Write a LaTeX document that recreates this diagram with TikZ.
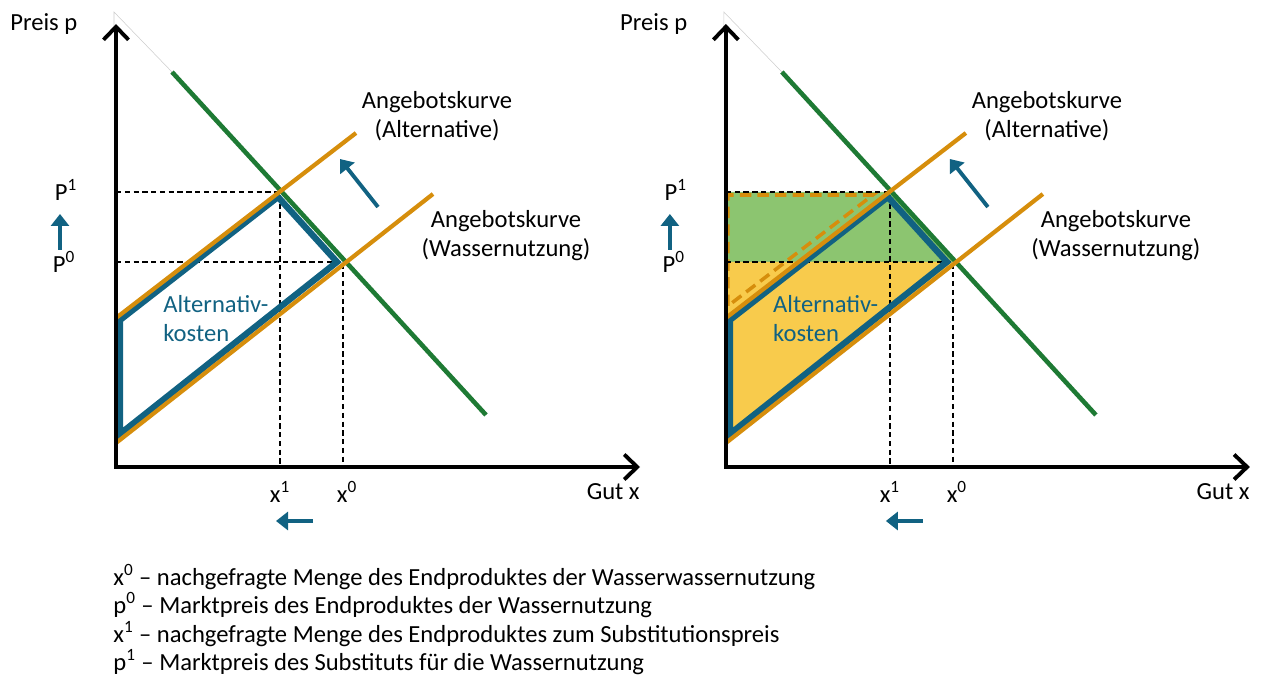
\documentclass[tikz,border=0pt]{standalone}
\usepackage{fontspec}
\setmainfont{Carlito}
\usetikzlibrary{arrows.meta}

\definecolor{gruen}{RGB}{30,122,52}
\definecolor{orange}{RGB}{214,142,12}
\definecolor{blau}{RGB}{17,98,130}
\definecolor{hellgruen}{RGB}{140,197,112}
\definecolor{gelb}{RGB}{248,203,76}

\tikzset{
  achse/.style={line width=2.2pt, {Straight Barb[length=2.6mm,width=5mm]}-{Straight Barb[length=2.6mm,width=5mm]}},
  nachfrage/.style={gruen, line width=2.6pt},
  angebot/.style={orange, line width=2.4pt},
  kosten/.style={blau, line width=3.6pt},
  hilfslinie/.style={black, line width=0.8pt, dash pattern=on 3pt off 2pt},
  pfeil/.style={blau, line width=2.2pt, -{Triangle[length=2.4mm,width=3.6mm]}},
  beschriftung/.style={inner sep=0pt, font=\fontsize{14}{16.5}\selectfont}
}

% Achsen, Kurven und Beschriftungen eines Marktdiagramms
\newcommand{\marktdiagramm}{%
  \coordinate (pa) at (280,192);
  \coordinate (pb) at (343,262);
  \draw[gray!40, line width=0.3pt] (114,26) -- (114,12) -- (172,72);
  % Hilfslinien zu den Gleichgewichten
  \draw[hilfslinie] (116,192) -- (pa) -- (280,467);
  \draw[hilfslinie] (116,262) -- (pb) -- (343,467);
  \draw[kosten] (120,434) -- (120,320) -- (278,197) -- (337,262) -- cycle;
  \draw[nachfrage] (172,72) -- (486,415);
  \draw[angebot] (116,318) -- (356,133);
  \draw[angebot] (116,443) -- (433,194);
  \draw[achse] (116,24) -- (116,467) -- (640,467);
  \draw[pfeil] (60,250) -- (60,214);
  \draw[pfeil] (313,521) -- (276,521);
  \draw[pfeil] (378,207) -- (340,159);
  \node[beschriftung, anchor=west] (preis) at (10,24) {Preis p};
  \node[beschriftung, anchor=east] (gut) at (640,492) {Gut x};
  \node[beschriftung] (pe) at (66,190) {P\textsuperscript{1}};
  \node[beschriftung] (pn) at (64,262) {P\textsuperscript{0}};
  \node[beschriftung] (xe) at (280,492) {x\textsuperscript{1}};
  \node[beschriftung] (xn) at (347,492) {x\textsuperscript{0}};
  \node[beschriftung, align=center] (alternative) at (437,116) {Angebotskurve\\(Alternative)};
  \node[beschriftung, align=center] (wasser) at (506,236) {Angebotskurve\\(Wassernutzung)};
  \node[beschriftung, blau, align=left, anchor=north west] (kostentext) at (163,295) {Alternativ-\\kosten};
}

\begin{document}
\begin{tikzpicture}[x=0.02cm, y=-0.02cm]
\useasboundingbox (0,0) rectangle (1265,675);

% linkes Diagramm
\marktdiagramm

% rechtes Diagramm mit Flaechen
\begin{scope}[xshift=12.2cm]
  \fill[hellgruen] (116,192) -- (280,192) -- (343,262) -- (116,262) -- cycle;
  \fill[gelb] (116,262) -- (343,262) -- (118,443) -- (116,443) -- cycle;
  \draw[orange, line width=2pt, dash pattern=on 6.5pt off 3.5pt] (118,306) -- (118,195) -- (263,195) -- cycle;
  \marktdiagramm
\end{scope}

% Legende
\node[beschriftung, anchor=west] (leg1) at (113,577) {x\textsuperscript{0} – nachgefragte Menge des Endproduktes der Wasserwassernutzung};
\node[beschriftung, anchor=west] (leg2) at (113,605) {p\textsuperscript{0} – Marktpreis des Endproduktes der Wassernutzung};
\node[beschriftung, anchor=west] (leg3) at (113,634) {x\textsuperscript{1} – nachgefragte Menge des Endproduktes zum Substitutionspreis};
\node[beschriftung, anchor=west] (leg4) at (113,662) {p\textsuperscript{1} – Marktpreis des Substituts für die Wassernutzung};
\end{tikzpicture}
\end{document}
